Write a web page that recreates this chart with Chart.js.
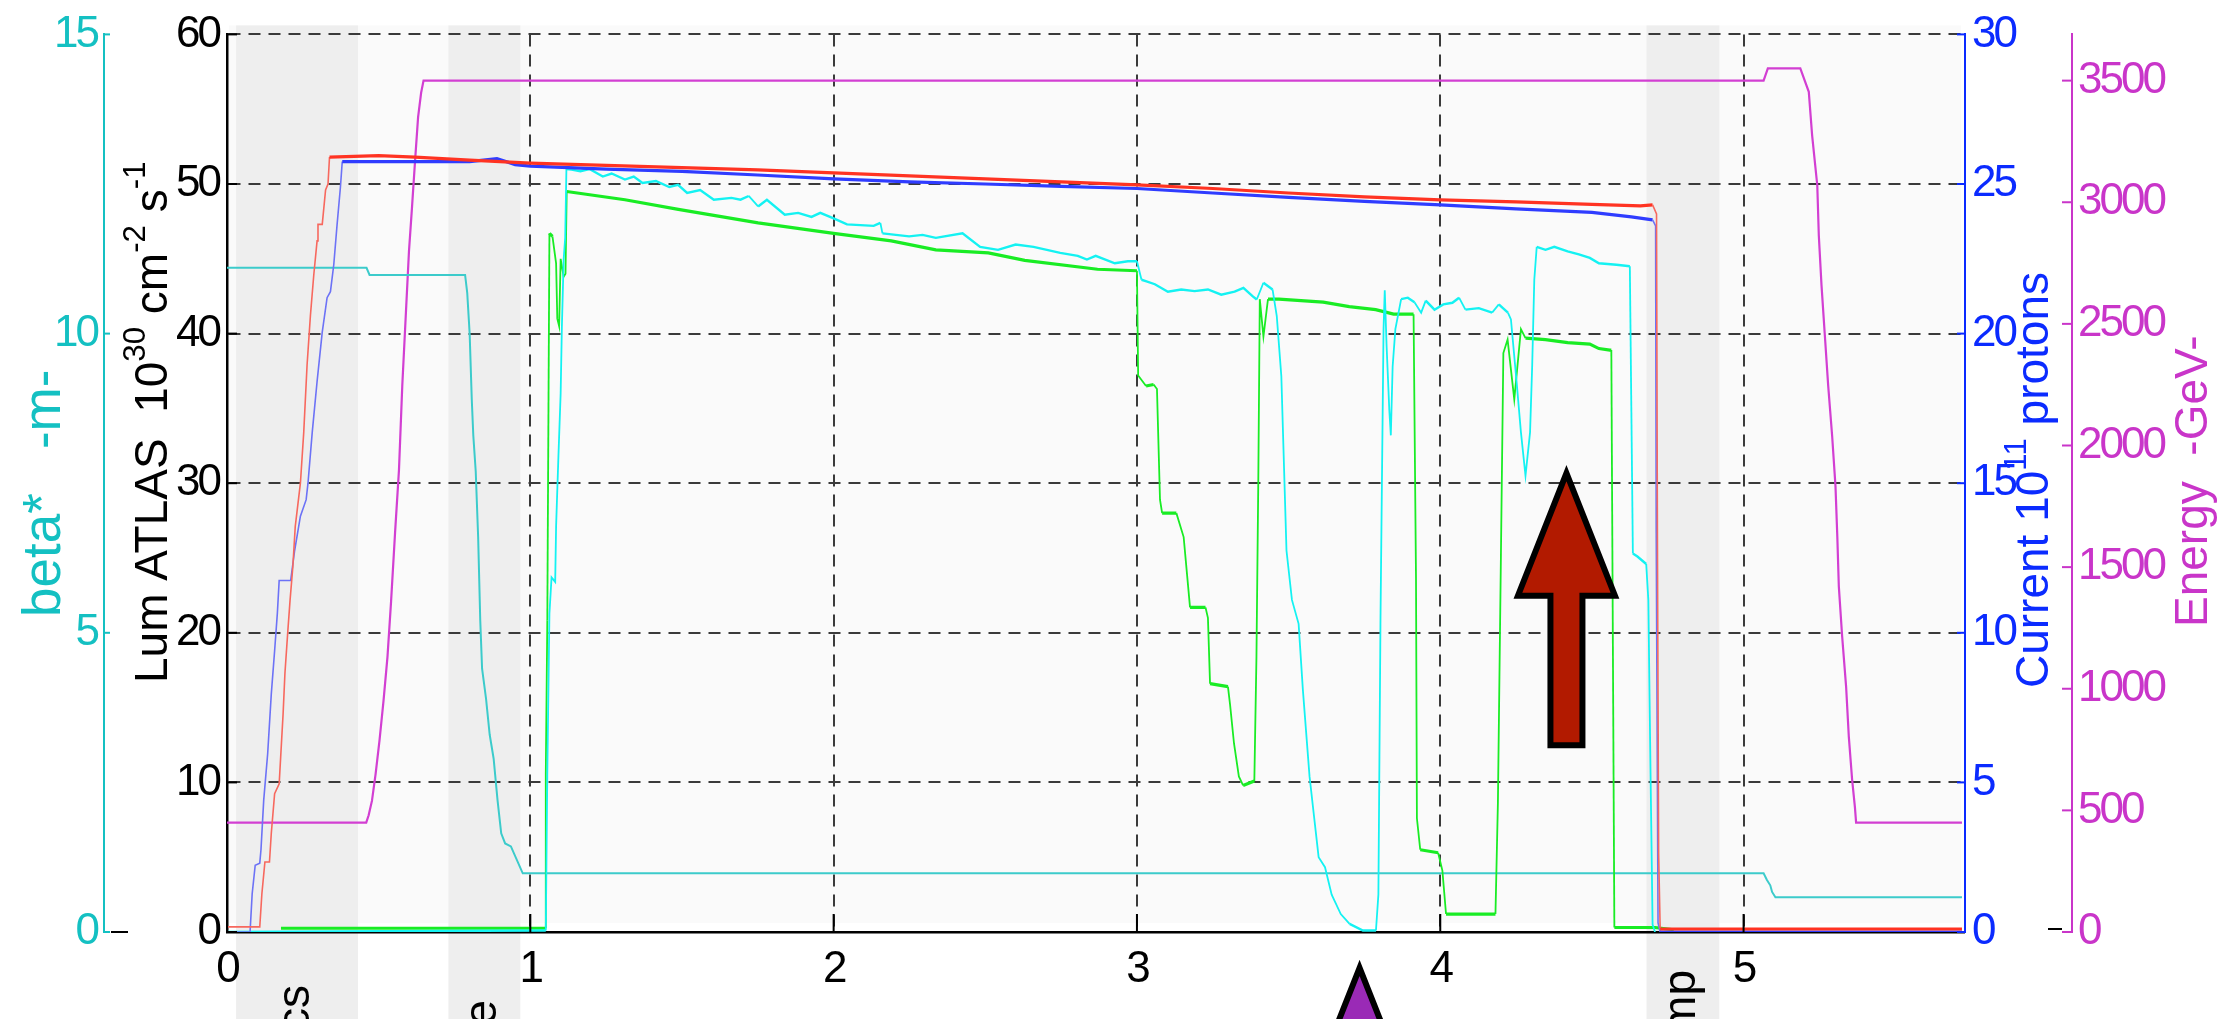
<!DOCTYPE html>
<html>
<head>
<meta charset="utf-8">
<script src="https://cdn.jsdelivr.net/npm/chart.js@4.4.1/dist/chart.umd.min.js"></script>
<style>
  html, body { margin: 0; padding: 0; background: #fff; overflow: hidden; }
  canvas { display: block; }
</style>
</head>
<body>
<canvas id="fill" width="2217" height="1019"></canvas>
<script>
// ---------------- fill data (time in hours) ----------------
const betaT = [0, 0.46, 0.47, 0.785, 0.792, 0.80, 0.807, 0.812, 0.82, 0.828, 0.835, 0.841, 0.854, 0.866, 0.879, 0.892, 0.904, 0.917, 0.936, 0.975, 5.066, 5.077, 5.088, 5.094, 5.105, 5.72];
const betaM = [11.1, 11.1, 10.98, 10.98, 10.68, 10.0, 8.9, 8.3, 7.7, 6.6, 5.2, 4.4, 3.9, 3.3, 2.9, 2.2, 1.65, 1.48, 1.43, 0.98, 0.98, 0.87, 0.78, 0.67, 0.58, 0.58];

const energyT = [0, 0.459, 0.467, 0.478, 0.49, 0.503, 0.516, 0.529, 0.541, 0.554, 0.567, 0.578, 0.59, 0.60, 0.61, 0.62, 0.63, 0.64, 0.648, 5.066, 5.08, 5.187, 5.215, 5.226, 5.243, 5.248, 5.257, 5.268, 5.279, 5.292, 5.303, 5.309, 5.314, 5.325, 5.338, 5.347, 5.358, 5.367, 5.371, 5.72];
const energyGeV = [450, 450, 480, 540, 650, 790, 950, 1130, 1360, 1640, 1900, 2250, 2550, 2800, 2980, 3170, 3350, 3450, 3500, 3500, 3550, 3550, 3454, 3275, 3069, 2864, 2657, 2451, 2245, 2039, 1833, 1627, 1421, 1215, 1009, 802, 624, 514, 450, 450];

const beam1T = [0, 0.108, 0.115, 0.125, 0.14, 0.146, 0.157, 0.172, 0.185, 0.191, 0.20, 0.208, 0.217, 0.225, 0.242, 0.253, 0.264, 0.275, 0.286, 0.297, 0.30, 0.314, 0.325, 0.333, 0.338, 0.5, 0.62, 0.8, 1.0, 1.25, 1.5, 1.75, 2.0, 2.25, 2.5, 2.75, 3.0, 3.25, 3.5, 3.75, 4.0, 4.25, 4.5, 4.66, 4.70, 4.713, 4.716, 4.72, 4.725, 5.72];
const beam1I = [0.17, 0.17, 1.28, 2.34, 2.34, 3.29, 4.62, 4.95, 7.3, 8.65, 9.98, 11.1, 12.2, 13.55, 15.0, 16.7, 18.95, 20.6, 21.95, 23.1, 23.65, 23.65, 24.8, 25.0, 25.9, 25.95, 25.9, 25.8, 25.7, 25.62, 25.55, 25.47, 25.37, 25.27, 25.17, 25.07, 24.97, 24.85, 24.7, 24.57, 24.47, 24.4, 24.32, 24.27, 24.3, 24.0, 13, 2.6, 0.1, 0.1];

const beam2T = [0, 0.076, 0.083, 0.093, 0.108, 0.112, 0.121, 0.134, 0.146, 0.157, 0.166, 0.172, 0.21, 0.223, 0.242, 0.261, 0.267, 0.281, 0.297, 0.314, 0.33, 0.341, 0.352, 0.363, 0.374, 0.38, 0.6, 0.8, 0.89, 0.95, 1.0, 1.25, 1.5, 1.75, 2.0, 2.25, 2.5, 2.75, 3.0, 3.25, 3.5, 3.75, 4.0, 4.25, 4.5, 4.63, 4.70, 4.71, 4.712, 4.718, 4.725, 5.72];
const beam2I = [0, 0, 1.28, 2.23, 2.3, 2.75, 4.4, 5.95, 7.95, 9.4, 10.65, 11.75, 11.75, 12.75, 13.9, 14.45, 15.0, 16.7, 18.4, 20.05, 21.2, 21.4, 22.3, 23.65, 24.9, 25.75, 25.75, 25.75, 25.85, 25.65, 25.6, 25.5, 25.42, 25.3, 25.17, 25.07, 25.0, 24.92, 24.85, 24.7, 24.55, 24.42, 24.3, 24.17, 24.05, 23.9, 23.8, 23.6, 13.35, 0.3, 0, 0];

const atlasT = [0.178, 1.051, 1.051, 1.056, 1.056, 1.063, 1.073, 1.085, 1.089, 1.095, 1.10, 1.11, 1.116, 1.12, 1.312, 1.488, 1.751, 2.0, 2.19, 2.337, 2.51, 2.63, 2.87, 3.0, 3.004, 3.03, 3.055, 3.066, 3.076, 3.083, 3.13, 3.154, 3.175, 3.226, 3.234, 3.241, 3.30, 3.307, 3.32, 3.336, 3.35, 3.387, 3.394, 3.40, 3.405, 3.417, 3.432, 3.468, 3.614, 3.70, 3.787, 3.846, 3.912, 3.92, 3.923, 3.934, 3.993, 4.007, 4.019, 4.182, 4.19, 4.2, 4.208, 4.222, 4.244, 4.266, 4.281, 4.347, 4.42, 4.493, 4.523, 4.559, 4.564, 4.574, 4.709, 4.77];
const atlasLum = [0.25, 0.25, 10.6, 20.8, 20.8, 46.7, 46.5, 44.7, 41.0, 40.5, 45.0, 43.8, 44, 49.5, 48.95, 48.3, 47.4, 46.7, 46.2, 45.6, 45.4, 44.9, 44.3, 44.2, 37.2, 36.5, 36.6, 36.3, 28.9, 28.0, 28.0, 26.4, 21.7, 21.7, 21.0, 16.6, 16.4, 15.2, 12.6, 10.4, 9.8, 10.1, 18.4, 30.0, 42.3, 39.8, 42.3, 42.3, 42.1, 41.8, 41.6, 41.3, 41.3, 23.7, 7.6, 5.5, 5.3, 4.1, 1.2, 1.2, 8.6, 25.2, 38.7, 39.6, 35.6, 40.3, 39.7, 39.6, 39.4, 39.3, 39.0, 38.9, 38.9, 0.3, 0.3, 0.15];

const cmsT = [0, 1.051, 1.056, 1.063, 1.070, 1.082, 1.085, 1.093, 1.10, 1.104, 1.11, 1.115, 1.119, 1.136, 1.165, 1.195, 1.239, 1.268, 1.312, 1.341, 1.37, 1.414, 1.458, 1.487, 1.517, 1.56, 1.605, 1.663, 1.693, 1.72, 1.751, 1.78, 1.839, 1.883, 1.927, 1.956, 2.0, 2.044, 2.132, 2.154, 2.161, 2.249, 2.293, 2.337, 2.425, 2.483, 2.542, 2.6, 2.659, 2.747, 2.805, 2.835, 2.864, 2.927, 2.97, 3.0, 3.015, 3.029, 3.059, 3.102, 3.146, 3.19, 3.234, 3.278, 3.322, 3.351, 3.381, 3.395, 3.417, 3.447, 3.461, 3.476, 3.493, 3.511, 3.533, 3.547, 3.569, 3.584, 3.599, 3.62, 3.642, 3.672, 3.701, 3.745, 3.788, 3.796, 3.803, 3.813, 3.817, 3.823, 3.832, 3.837, 3.843, 3.852, 3.871, 3.893, 3.915, 3.937, 3.952, 3.981, 4.01, 4.04, 4.062, 4.083, 4.127, 4.171, 4.193, 4.223, 4.233, 4.252, 4.266, 4.281, 4.296, 4.303, 4.31, 4.318, 4.347, 4.376, 4.42, 4.457, 4.493, 4.523, 4.581, 4.625, 4.635, 4.65, 4.679, 4.686, 4.693, 4.70, 4.708];
const cmsLum = [0, 0.1, 10.6, 21.3, 23.7, 23.4, 27.1, 32, 36, 40.4, 45, 46.4, 51.0, 50.96, 50.85, 51.0, 50.5, 50.7, 50.3, 50.5, 50.07, 50.2, 49.8, 49.95, 49.4, 49.6, 48.95, 49.07, 48.95, 49.2, 48.5, 48.95, 47.95, 48.07, 47.8, 48.07, 47.7, 47.3, 47.2, 47.4, 46.7, 46.5, 46.6, 46.4, 46.7, 45.8, 45.6, 45.95, 45.8, 45.4, 45.2, 44.95, 45.2, 44.7, 44.84, 44.84, 43.6, 43.5, 43.3, 42.8, 42.95, 42.84, 42.95, 42.6, 42.8, 43.06, 42.5, 42.28, 43.4, 42.95, 41.17, 37.16, 25.5, 22.2, 20.6, 16.2, 10.4, 7.7, 5.0, 4.33, 2.5, 1.2, 0.54, 0.1, 0.1, 2.5, 21.1, 40.3, 42.9, 39.2, 34.9, 33.2, 37.8, 40.3, 42.3, 42.4, 42.1, 41.4, 42.2, 41.6, 41.95, 42.06, 42.4, 41.6, 41.7, 41.4, 41.95, 41.4, 40.95, 36.7, 33.4, 30.5, 33.4, 37.8, 43.6, 45.8, 45.6, 45.8, 45.5, 45.3, 45.06, 44.7, 44.6, 44.5, 25.3, 25.1, 24.6, 22.2, 11.0, 0.5, 0];

// machine phases shaded on the time axis
const phaseStart = [0.03, 0.73, 4.68];
const phaseEnd   = [0.432, 0.967, 4.92];
const phaseName  = ['Injection physics', 'Squeeze', 'Beam dump'];

// tick values of each axis
const timeTickVals    = [0, 1, 2, 3, 4, 5];
const lumTickVals     = [0, 10, 20, 30, 40, 50, 60];
const betaTickVals    = [0, 5, 10, 15];
const currentTickVals = [0, 5, 10, 15, 20, 25, 30];
const energyTickVals  = [0, 500, 1000, 1500, 2000, 2500, 3000, 3500];

// ---------------- styling ----------------
const FONT = '"Liberation Sans", Arial, Helvetica, sans-serif';
Chart.defaults.font.family = FONT;
const C_BETA = '#14C0C2';
const C_CUR = '#0B2BFF';
const C_EN = '#C935C9';

const pts = (xs, ys) => xs.map((x, i) => ({ x, y: ys[i] }));
const isSteep = c => Math.abs(c.p1.y - c.p0.y) > Math.abs(c.p1.x - c.p0.x) + 0.5;

// the injection staircase is drawn thin, the coasting current thick
const thinBeam = c => c.p0.parsed.x < 0.335 || isSteep(c);
const beamWidth = c => thinBeam(c) ? 1.6 : 3.2;
const beamColor = (thin, thick) => c => thinBeam(c) ? thin : thick;

const datasets = [
  { label: 'Beam 1', data: pts(beam1T, beam1I), yAxisID: 'yCur', borderColor: '#FF3322',
    segment: { borderWidth: beamWidth, borderColor: beamColor('#F7685E', '#FF3322') } },
  { label: 'Beam 2', data: pts(beam2T, beam2I), yAxisID: 'yCur', borderColor: '#2F3CFF',
    segment: { borderWidth: beamWidth, borderColor: beamColor('#6C72F6', '#2F3CFF') } },
  { label: 'Lumi CMS', data: pts(cmsT, cmsLum), yAxisID: 'yLum', borderColor: '#14F2F2',
    segment: { borderWidth: c => isSteep(c) ? 1.8 : 2.4 } },
  { label: 'Lumi ATLAS', data: pts(atlasT, atlasLum), yAxisID: 'yLum', borderColor: '#19EC24',
    segment: { borderWidth: c => isSteep(c) ? 1.8 : 3.2 } },
  { label: 'beta*', data: pts(betaT, betaM), yAxisID: 'yBeta', borderColor: '#3CCBCB', borderWidth: 2 },
  { label: 'Energy', data: pts(energyT, energyGeV), yAxisID: 'yE', borderColor: '#D23FD2', borderWidth: 2.2 }
];
datasets.forEach(d => { d.pointRadius = 0; d.tension = 0; d.fill = false; });

// ---------------- custom drawing ----------------
function drawRuns(ctx, x, y, runs, color, size) {
  ctx.save();
  ctx.translate(x, y);
  ctx.rotate(-Math.PI / 2);
  ctx.fillStyle = color;
  ctx.textAlign = 'left';
  ctx.textBaseline = 'alphabetic';
  let cx = 0;
  for (const r of runs) {
    const s = r.sup ? size * 0.68 : size;
    ctx.font = s + 'px ' + FONT;
    ctx.fillText(r.t, cx, r.sup ? -size * 0.47 : 0);
    cx += ctx.measureText(r.t).width;
  }
  ctx.restore();
}

function drawArrow(ctx, tx, ty, fill) {
  const shape = [[0, 0], [48.5, 122.5], [16, 122.5], [16, 272], [-16, 272], [-16, 122.5], [-48.5, 122.5]];
  ctx.save();
  ctx.beginPath();
  shape.forEach(([dx, dy], i) => i ? ctx.lineTo(tx + dx, ty + dy) : ctx.moveTo(tx + dx, ty + dy));
  ctx.closePath();
  ctx.fillStyle = fill;
  ctx.fill();
  ctx.lineWidth = 6;
  ctx.lineJoin = 'miter';
  ctx.strokeStyle = '#000';
  ctx.stroke();
  ctx.restore();
}

const decor = {
  id: 'decor',
  beforeDraw(chart) {
    const { ctx, chartArea: a, scales } = chart;
    const xs = scales.x;
    ctx.save();
    ctx.fillStyle = '#fff';
    ctx.fillRect(0, 0, chart.width, chart.height);
    // pale plot panel
    ctx.fillStyle = '#FAFAFA';
    const px0 = xs.getPixelForValue(0) + 2;
    ctx.fillRect(px0, a.top - 9, a.right - 4 - px0, a.bottom - a.top);
    // phase bands reach below the axis
    ctx.fillStyle = '#EEEEEE';
    phaseStart.forEach((s, i) => {
      const l = xs.getPixelForValue(s), r = xs.getPixelForValue(phaseEnd[i]);
      ctx.fillRect(l, a.top - 9, r - l, chart.height - a.top + 9);
    });
    ctx.restore();
    // slightly tighter digits for the tick labels
    ctx.letterSpacing = '-3px';
  },
  afterDraw(chart) {
    const { ctx, chartArea: a, scales } = chart;
    ctx.letterSpacing = '0px';
    const { x: xs, yLum, yBeta, yCur, yE } = scales;
    ctx.save();
    ctx.lineCap = 'butt';
    const tick = (color, x1, y1, x2, y2) => {
      ctx.strokeStyle = color; ctx.lineWidth = 2;
      ctx.beginPath(); ctx.moveTo(x1, y1); ctx.lineTo(x2, y2); ctx.stroke();
    };
    xs.ticks.forEach(t => { const p = xs.getPixelForValue(t.value); tick('#000', p, a.bottom, p, a.bottom - 18); });
    yLum.ticks.forEach(t => { const p = yLum.getPixelForValue(t.value); tick('#000', a.left, p, a.left + 10, p); });
    yBeta.ticks.forEach(t => { const p = yBeta.getPixelForValue(t.value); tick(C_BETA, yBeta.right, p, yBeta.right + 6, p); });
    yCur.ticks.forEach(t => { const p = yCur.getPixelForValue(t.value); tick(C_CUR, a.right, p, a.right - 8, p); });
    yE.ticks.forEach(t => { const p = yE.getPixelForValue(t.value); tick(C_EN, yE.left, p, yE.left - 10, p); });
    tick('#000', yBeta.right + 7, yBeta.getPixelForValue(0), yBeta.right + 24, yBeta.getPixelForValue(0));
    tick('#000', yE.left - 24, yE.getPixelForValue(0) - 3, yE.left - 10, yE.getPixelForValue(0) - 3);
    ctx.restore();

    // axis titles
    drawRuns(ctx, 60, 617, [{ t: 'beta*   -m-' }], C_BETA, 53);
    drawRuns(ctx, 167, 683, [{ t: 'Lum ATLAS  10' }, { t: '30', sup: true }, { t: ' cm' }, { t: '-2', sup: true }, { t: ' s' }, { t: '-1', sup: true }], '#000', 46);
    drawRuns(ctx, 2048, 688, [{ t: 'Current 10' }, { t: '11', sup: true }, { t: ' protons' }], C_CUR, 46);
    drawRuns(ctx, 2207, 627, [{ t: 'Energy  -GeV-' }], C_EN, 46);

    // phase names under the axis (running off the bottom edge)
    const labelEnd = [985, 1000, 970];
    phaseName.forEach((n, i) => {
      const cx = (xs.getPixelForValue(phaseStart[i]) + xs.getPixelForValue(phaseEnd[i])) / 2;
      ctx.save();
      ctx.translate(cx + 12, labelEnd[i]);
      ctx.rotate(-Math.PI / 2);
      ctx.font = '46px ' + FONT;
      ctx.fillStyle = '#000';
      ctx.textAlign = 'right';
      ctx.textBaseline = 'alphabetic';
      ctx.fillText(n, 0, 0);
      ctx.restore();
    });

    // markers
    drawArrow(ctx, xs.getPixelForValue(4.416), yLum.getPixelForValue(30.67), '#B21A00');
    drawArrow(ctx, xs.getPixelForValue(3.734), yLum.getPixelForValue(-2.4), '#9A2AB6');
  }
};

const setTicks = vals => s => { s.ticks = vals.map(v => ({ value: v })); };
const plain = v => String(v);
const dashGrid = [12, 8];

new Chart(document.getElementById('fill'), {
  type: 'line',
  data: { datasets },
  plugins: [decor],
  options: {
    responsive: false,
    animation: false,
    events: [],
    layout: { padding: { top: 34, left: 0, right: 0, bottom: 0 } },
    plugins: { legend: { display: false }, tooltip: { enabled: false } },
    scales: {
      x: {
        type: 'linear', position: 'bottom', min: 0, max: 5.73,
        afterBuildTicks: setTicks(timeTickVals),
        ticks: { callback: plain, color: '#000', font: { size: 44 }, padding: 11, maxRotation: 0, autoSkip: false },
        grid: { color: '#3A3A3A', lineWidth: c => (c.tick && c.tick.value === 0) ? 0 : 2, drawTicks: false },
        border: { color: '#000', width: 2.5, dash: dashGrid },
        afterFit: s => { s.height = 87; }
      },
      yLum: {
        type: 'linear', position: 'left', min: 0, max: 60, weight: 0,
        afterBuildTicks: setTicks(lumTickVals),
        ticks: { callback: plain, color: '#000', font: { size: 44 }, padding: 8, autoSkip: false },
        grid: { color: '#3A3A3A', lineWidth: c => (c.tick && c.tick.value === 0) ? 0 : 2, drawTicks: false },
        border: { color: '#000', width: 2.5, dash: dashGrid },
        afterFit: s => { s.width = 123; }
      },
      yBeta: {
        type: 'linear', position: 'left', min: 0, max: 15, weight: 1,
        afterBuildTicks: setTicks(betaTickVals),
        ticks: { callback: plain, color: C_BETA, font: { size: 44 }, padding: 7, autoSkip: false },
        grid: { drawOnChartArea: false, drawTicks: false },
        border: { color: C_BETA, width: 2 },
        afterFit: s => { s.width = 104; }
      },
      yCur: {
        type: 'linear', position: 'right', min: 0, max: 30, weight: 0,
        afterBuildTicks: setTicks(currentTickVals),
        ticks: { callback: plain, color: C_CUR, font: { size: 44 }, padding: 7, autoSkip: false },
        grid: { drawOnChartArea: false, drawTicks: false },
        border: { color: C_CUR, width: 2 },
        afterFit: s => { s.width = 107; }
      },
      yE: {
        type: 'linear', position: 'right', min: 0, max: 3690, weight: 1,
        afterBuildTicks: setTicks(energyTickVals),
        ticks: { callback: plain, color: C_EN, font: { size: 44 }, padding: 6, autoSkip: false },
        grid: { drawOnChartArea: false, drawTicks: false },
        border: { color: C_EN, width: 2 },
        afterFit: s => { s.width = 145; }
      }
    }
  }
});
</script>
</body>
</html>
